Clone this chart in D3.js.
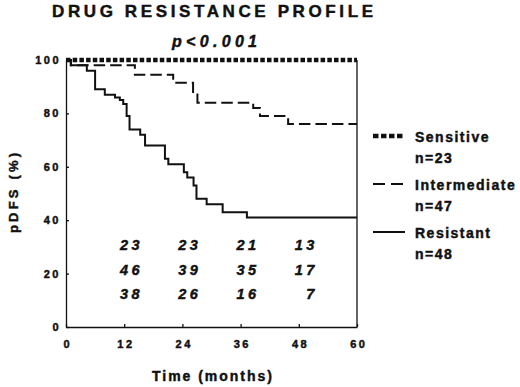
<!DOCTYPE html>
<html>
<head>
<meta charset="utf-8">
<script src="https://cdn.jsdelivr.net/npm/d3@7"></script>
<style>
    body { margin: 0; background: #fff; }
    svg { display: block; font-family: "Liberation Sans", Arial, sans-serif; }
    /* the scanned print is heavier than a plain bold face */
    svg text { stroke: #111; stroke-width: 0.45px; }
</style>
</head>
<body>
<div class="container"></div>
<script>
// survival curves (months, pDFS %)
const resistantTimes = [0, 1, 4.3, 6, 8, 10.1, 11.1, 11.8, 12.5, 13.1, 15.3, 16.3, 20.4, 21.1, 24.3, 25, 26.3, 26.9, 29, 32.3, 37.3, 60];
const resistantValues = [100, 98, 96, 89, 87, 86, 85, 83.5, 79, 74, 72, 68, 63, 61, 58, 56, 53, 48, 46, 43, 41, 41];

const intermediateTimes = [0, 1, 14.2, 22.1, 26.2, 27.1, 38.6, 40, 45.8, 60];
const intermediateValues = [100, 98, 94.5, 91.5, 87.5, 84, 82, 79, 76, 76];

const sensitiveTimes = [0, 60];
const sensitiveValues = [100, 100];

// patients at risk, one row per group, columns at 12/24/36/48 months
const riskMonths = [12, 24, 36, 48];
const riskSensitive = [23, 23, 21, 13];
const riskIntermediate = [46, 39, 35, 17];
const riskResistant = [38, 26, 16, 7];

const xTicks = [0, 12, 24, 36, 48, 60];
const yTicks = [0, 20, 40, 60, 80, 100];

const legendLabels = ["Sensitive", "Intermediate", "Resistant"];
const legendCounts = ["n=23", "n=47", "n=48"];

const width = 520,
        height = 387;

const svg = d3.select(".container")
    .append("svg")
    .attr("width", width)
    .attr("height", height);

const x = d3.scaleLinear()
    .domain([0, 60])
    .range([66, 357]);

const y = d3.scaleLinear()
    .domain([0, 100])
    .range([327, 60]);

// axes with small inward ticks
const xAxis = d3.axisBottom(x)
    .tickValues(xTicks)
    .tickSizeInner(-3)
    .tickSizeOuter(0)
    .tickPadding(13);

const yAxis = d3.axisLeft(y)
    .tickValues(yTicks)
    .tickSizeInner(-3)
    .tickSizeOuter(0)
    .tickPadding(5);

const gx = svg.append("g")
    .attr("transform", `translate(0, ${y(0)})`)
    .call(xAxis);

const gy = svg.append("g")
    .attr("transform", `translate(${x(0)}, 0)`)
    .call(yAxis);

[gx, gy].forEach(g => {
    g.selectAll("path, line").attr("stroke", "#111").attr("stroke-width", 1.3);
    g.selectAll("text")
        .attr("fill", "#111")
        .style("font-size", "11px")
        .style("font-weight", "bold")
        .style("letter-spacing", "2.5px");
});
gx.selectAll("text").attr("dx", "1.25px");

// right border of the plot
svg.append("line")
    .attr("x1", x(60)).attr("x2", x(60))
    .attr("y1", y(0)).attr("y2", y(100))
    .attr("stroke", "#111")
    .attr("stroke-width", 1.3);

const line = d3.line()
    .x(d => x(d[0]))
    .y(d => y(d[1]))
    .curve(d3.curveStepAfter);

const series = [
    { times: resistantTimes, values: resistantValues, width: 2, dash: null },
    { times: intermediateTimes, values: intermediateValues, width: 2, dash: "11.5,5" },
    { times: sensitiveTimes, values: sensitiveValues, width: 4.5, dash: "4.5,2.2" }
];

svg.selectAll(".curve")
    .data(series)
    .enter()
    .append("path")
    .attr("class", "curve")
    .attr("d", s => line(d3.zip(s.times, s.values)))
    .attr("fill", "none")
    .attr("stroke", "#111")
    .attr("stroke-width", s => s.width)
    .attr("stroke-dasharray", s => s.dash);

// numbers at risk
const riskRows = [riskSensitive, riskIntermediate, riskResistant];
const rowY = [250, 275, 299];

riskRows.forEach((row, r) => {
    svg.append("g")
        .selectAll("text")
        .data(row)
        .enter()
        .append("text")
        .attr("x", (d, i) => x(riskMonths[i]) + 19)
        .attr("y", rowY[r])
        .attr("text-anchor", "end")
        .attr("fill", "#111")
        .style("font-size", "14.5px")
        .style("font-weight", "bold")
        .style("font-style", "italic")
        .style("letter-spacing", "3.5px")
        .text(d => d);
});

// legend
const legend = svg.append("g");
const legendY = [136, 184, 232];

legend.selectAll("line")
    .data(series.slice().reverse())
    .enter()
    .append("line")
    .attr("x1", 373)
    .attr("x2", 405)
    .attr("y1", (d, i) => legendY[i])
    .attr("y2", (d, i) => legendY[i])
    .attr("stroke", "#111")
    .attr("stroke-width", (d, i) => i === 0 ? 4.5 : 2)
    .attr("stroke-dasharray", (d, i) => i === 0 ? "5.5,2.5" : (i === 1 ? "12,6" : null));

legendLabels.forEach((label, i) => {
    legend.append("text")
        .attr("x", 415)
        .attr("y", legendY[i] + 6)
        .text(label);
    legend.append("text")
        .attr("x", 415)
        .attr("y", legendY[i] + 27)
        .text(legendCounts[i]);
});

legend.selectAll("text")
    .attr("fill", "#111")
    .style("font-size", "14px")
    .style("font-weight", "bold")
    .style("letter-spacing", "1.5px");

// titles and axis labels
svg.append("text")
    .attr("x", 52)
    .attr("y", 17)
    .attr("textLength", 321)
    .attr("lengthAdjust", "spacing")
    .attr("fill", "#111")
    .style("font-size", "17px")
    .style("font-weight", "bold")
    .text("DRUG  RESISTANCE  PROFILE");

svg.append("text")
    .attr("x", 172)
    .attr("y", 47)
    .attr("textLength", 85)
    .attr("lengthAdjust", "spacing")
    .attr("fill", "#111")
    .style("font-size", "16px")
    .style("font-weight", "bold")
    .style("font-style", "italic")
    .text("p<0.001");

svg.append("text")
    .attr("x", 152)
    .attr("y", 381)
    .attr("textLength", 120)
    .attr("lengthAdjust", "spacing")
    .attr("fill", "#111")
    .style("font-size", "14px")
    .style("font-weight", "bold")
    .text("Time  (months)");

svg.append("text")
    .attr("transform", "translate(18, 233) rotate(-90)")
    .attr("textLength", 80)
    .attr("lengthAdjust", "spacing")
    .attr("fill", "#111")
    .style("font-size", "13px")
    .style("font-weight", "bold")
    .text("pDFS  (%)");
</script>
</body>
</html>
